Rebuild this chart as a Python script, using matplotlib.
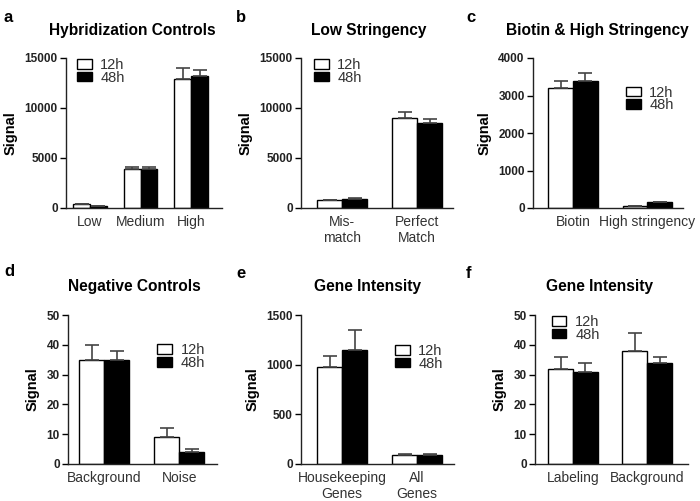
import numpy as np
import matplotlib
matplotlib.use('Agg')
import matplotlib.pyplot as plt
from matplotlib.patches import Patch

plt.rcParams['font.family'] = ['Liberation Sans', 'DejaVu Sans']

# panel data: categories, 12h / 48h means and upper errors
a_cats = ['Low', 'Medium', 'High']
a_12h = [400, 3900, 12900]
a_12h_err = [40, 250, 1100]
a_48h = [200, 3900, 13200]
a_48h_err = [30, 250, 600]
a_ticks = [0, 5000, 10000, 15000]

b_cats = ['Mis-\nmatch', 'Perfect\nMatch']
b_12h = [800, 9000]
b_12h_err = [40, 600]
b_48h = [950, 8500]
b_48h_err = [60, 400]
b_ticks = [0, 5000, 10000, 15000]

c_cats = ['Biotin', 'High stringency']
c_12h = [3200, 50]
c_12h_err = [200, 10]
c_48h = [3400, 150]
c_48h_err = [200, 20]
c_ticks = [0, 1000, 2000, 3000, 4000]

d_cats = ['Background', 'Noise']
d_12h = [35, 9]
d_12h_err = [5, 3]
d_48h = [35, 4]
d_48h_err = [3, 1]
d_ticks = [0, 10, 20, 30, 40, 50]

e_cats = ['Housekeeping\nGenes', 'All\nGenes']
e_12h = [980, 90]
e_12h_err = [110, 8]
e_48h = [1150, 90]
e_48h_err = [200, 8]
e_ticks = [0, 500, 1000, 1500]

f_cats = ['Labeling', 'Background']
f_12h = [32, 38]
f_12h_err = [4, 6]
f_48h = [31, 34]
f_48h_err = [3, 2]
f_ticks = [0, 10, 20, 30, 40, 50]

W, H = 700, 501
fig = plt.figure(figsize=(W / 100, H / 100), dpi=100)


def panel(letter, title, box, xlim, cats, v12, e12, v48, e48, ticks,
          leg_anchor, letter_xy, title_xy):
    x0, x1, ytop, ybot = box
    ax = fig.add_axes([x0 / W, 1 - ybot / H, (x1 - x0) / W, (ybot - ytop) / H])
    x = np.arange(len(cats))
    w = 1 / 3
    ekw = dict(ecolor='#444444', elinewidth=1.2, capsize=4.7, capthick=1.2)
    ax.bar(x - w / 2, v12, w, color='white', edgecolor='black', linewidth=1,
           yerr=[np.zeros(len(e12)), e12], error_kw=ekw)
    ax.bar(x + w / 2, v48, w, color='black', edgecolor='black', linewidth=1,
           yerr=[np.zeros(len(e48)), e48], error_kw=ekw)
    ax.set_xlim(*xlim)
    ax.set_ylim(ticks[0], ticks[-1])
    ax.set_yticks(ticks)
    ax.set_yticklabels([str(t) for t in ticks], fontsize=8.5, fontweight='bold', color='#222222')
    ax.set_xticks(x)
    ax.set_xticklabels(cats, fontsize=10, color='#333333', linespacing=1.2)
    ax.tick_params(axis='x', length=0, pad=5)
    ax.tick_params(axis='y', length=4, width=1, pad=2)
    for s in ['top', 'right']:
        ax.spines[s].set_visible(False)
    for s in ['left', 'bottom']:
        ax.spines[s].set_linewidth(1)
        ax.spines[s].set_color('#222222')
    ax.set_ylabel('Signal', fontsize=10.5, fontweight='bold', labelpad=5)
    handles = [Patch(facecolor='white', edgecolor='black', label='12h'),
               Patch(facecolor='black', edgecolor='black', label='48h')]
    ax.legend(handles=handles, loc='upper left', bbox_to_anchor=leg_anchor,
              frameon=False, fontsize=10.5, handlelength=1.0, handleheight=0.65,
              handletextpad=0.6, labelspacing=-0.1, borderpad=0, borderaxespad=0,
              labelcolor='#333333')
    fig.text(letter_xy[0] / W, 1 - letter_xy[1] / H, letter, fontsize=12,
             fontweight='bold', va='center', ha='left')
    fig.text(title_xy[0] / W, 1 - title_xy[1] / H, title, fontsize=11.2,
             fontweight='bold', va='center', ha='center')
    return ax


panel('a', 'Hybridization Controls', (66, 222, 58, 208), (-0.475, 2.61),
      a_cats, a_12h, a_12h_err, a_48h, a_48h_err, a_ticks,
      (0.07, 1.0), (4, 18), (132, 31))
panel('b', 'Low Stringency', (301, 453, 58, 208), (-0.547, 1.48),
      b_cats, b_12h, b_12h_err, b_48h, b_48h_err, b_ticks,
      (0.085, 1.0), (236, 18), (369, 31))
panel('c', 'Biotin & High Stringency', (533, 683, 58, 208), (-0.54, 1.48),
      c_cats, c_12h, c_12h_err, c_48h, c_48h_err, c_ticks,
      (0.62, 0.815), (466, 18), (597, 31))
panel('d', 'Negative Controls', (68, 217, 315, 464), (-0.48, 1.5),
      d_cats, d_12h, d_12h_err, d_48h, d_48h_err, d_ticks,
      (0.6, 0.81), (4, 272), (134, 287))
panel('e', 'Gene Intensity', (301, 454, 315, 464), (-0.547, 1.49),
      e_cats, e_12h, e_12h_err, e_48h, e_48h_err, e_ticks,
      (0.614, 0.805), (236, 273), (368, 287))
panel('f', 'Gene Intensity', (535, 688, 315, 464), (-0.51, 1.55),
      f_cats, f_12h, f_12h_err, f_48h, f_48h_err, f_ticks,
      (0.11, 1.0), (466, 273), (600, 287))

fig.savefig('out.png', dpi=100)
